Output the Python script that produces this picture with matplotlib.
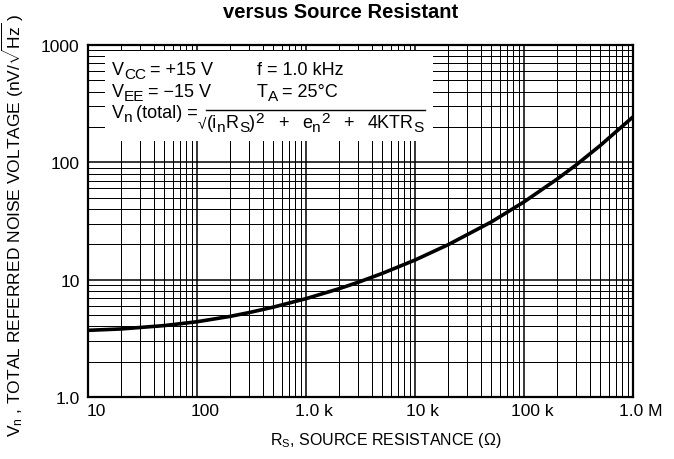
import matplotlib
matplotlib.use('Agg')
import matplotlib.pyplot as plt
import matplotlib.transforms as mtransforms
from matplotlib.lines import Line2D
from matplotlib.patches import Rectangle
from matplotlib.ticker import LogLocator, NullFormatter

plt.rcParams['font.family'] = ['Liberation Sans', 'DejaVu Sans']
plt.rcParams['mathtext.fontset'] = 'custom'
plt.rcParams['mathtext.rm'] = 'Liberation Sans'
plt.rcParams['mathtext.it'] = 'Liberation Sans'
plt.rcParams['mathtext.bf'] = 'Liberation Sans:bold'

# source resistance (ohm) vs total referred noise voltage (nV/rtHz)
rs = [10, 20, 50, 100, 200, 300, 500, 1e3, 2e3, 3e3, 5e3, 1e4, 2e4, 5e4, 1e5, 2e5, 3e5, 5e5, 1e6]
vn = [3.7, 3.8, 4.06, 4.38, 4.86, 5.24, 5.83, 6.89, 8.36, 9.49, 11.3, 14.7, 19.8, 31.0, 46.0, 71.7, 94.8, 139, 244]

x_ticks = [10, 100, 1e3, 1e4, 1e5, 1e6]
x_labels = ['10', '100', '1.0 k', '10 k', '100 k', '1.0 M']
y_ticks = [1, 10, 100, 1000]
y_labels = ['1.0', '10', '100', '1000']

W, H = 674, 460
fig = plt.figure(figsize=(W / 100, H / 100), dpi=100)
ax = fig.add_axes([88 / W, 62 / H, 545 / W, 352 / H])

ax.loglog(rs, vn, color='black', lw=2.6, solid_capstyle='butt', zorder=3)
ax.set_xlim(10, 1e6)
ax.set_ylim(1, 1000)

ax.set_xticks(x_ticks)
ax.set_xticklabels(x_labels)
ax.set_yticks(y_ticks)
ax.set_yticklabels(y_labels)
ax.xaxis.set_minor_locator(LogLocator(base=10, subs=range(2, 10), numticks=20))
ax.yaxis.set_minor_locator(LogLocator(base=10, subs=range(2, 10), numticks=20))
ax.xaxis.set_minor_formatter(NullFormatter())
ax.yaxis.set_minor_formatter(NullFormatter())
ax.tick_params(which='both', length=0, labelsize=12.5, colors='black')
ax.tick_params(axis='x', pad=4)
ax.tick_params(axis='y', pad=6)

# x labels sit a little to the right of their grid lines
shift = mtransforms.ScaledTranslation(8 / 100, 0, fig.dpi_scale_trans)
for lab in ax.get_xticklabels():
    lab.set_transform(lab.get_transform() + shift)

ax.set_axisbelow(True)
ax.grid(which='major', color='black', lw=1.1)
ax.grid(which='minor', color='black', lw=0.72)
for sp in ax.spines.values():
    sp.set_linewidth(1.6)

# white box for the test conditions
ax.add_patch(Rectangle(((105 - 88) / 545, (398 - 142) / 352), 328 / 545, 90 / 352,
                       transform=ax.transAxes, facecolor='white', edgecolor='none', zorder=1))

px = mtransforms.IdentityTransform()


def rich(x, y, parts, size=13):
    # lay out pieces left to right on one baseline, y measured from the top
    r = fig.canvas.get_renderer()
    for p in parts:
        if isinstance(p, (int, float)):
            x += p
            continue
        s, kind = p
        fs = size * 0.85 if kind else size
        dy = {'': 0, 'sub': -4, 'sup': 5}[kind]
        t = fig.text(x, H - y + dy, s, transform=px, fontsize=fs, va='baseline', ha='left', zorder=5)
        x += t.get_window_extent(r).width
    return x


rich(112, 75, [('V', ''), ('CC', 'sub'), 4, ('= +15 V', '')])
rich(112, 97, [('V', ''), ('EE', 'sub'), 4, ('= \u221215 V', '')])
rich(257, 75, [('f = 1.0 kHz', '')])
rich(257, 97, [('T', ''), ('A', 'sub'), 4, ('= 25°C', '')])
rich(112, 118, [('V', ''), ('n', 'sub'), 3, ('(total) =', '')])

gap = 14
rich(207, 128, [('(i', ''), ('n', 'sub'), ('R', ''), ('S', 'sub'), (')', ''), ('2', 'sup'), gap,
                ('+', ''), gap, ('e', ''), ('n', 'sub'), ('2', 'sup'), gap,
                ('+', ''), gap, ('4KTR', ''), ('S', 'sub')])
fig.text(198, H - 128, '\u221a', transform=px, fontsize=11, va='baseline', ha='left', zorder=5)
fig.add_artist(Line2D([206, 425], [H - 111, H - 111], transform=px, color='black', lw=1.0))

fig.text(341 / W, 1 - 13 / H, 'versus Source Resistant', ha='center', va='center',
         fontsize=14.5, fontweight='bold')
fig.text(386 / W, 1 - 441 / H, r'$R_S$, SOURCE RESISTANCE ($\Omega$)', ha='center', va='center',
         fontsize=11.5)
fig.text(13 / W, 1 - 225 / H, r'$V_n$ , TOTAL REFERRED NOISE VOLTAGE (nV/$\sqrt{\mathrm{Hz}}$ )',
         rotation=90, ha='center', va='center', fontsize=12.5)

fig.savefig('out.png', dpi=100)
